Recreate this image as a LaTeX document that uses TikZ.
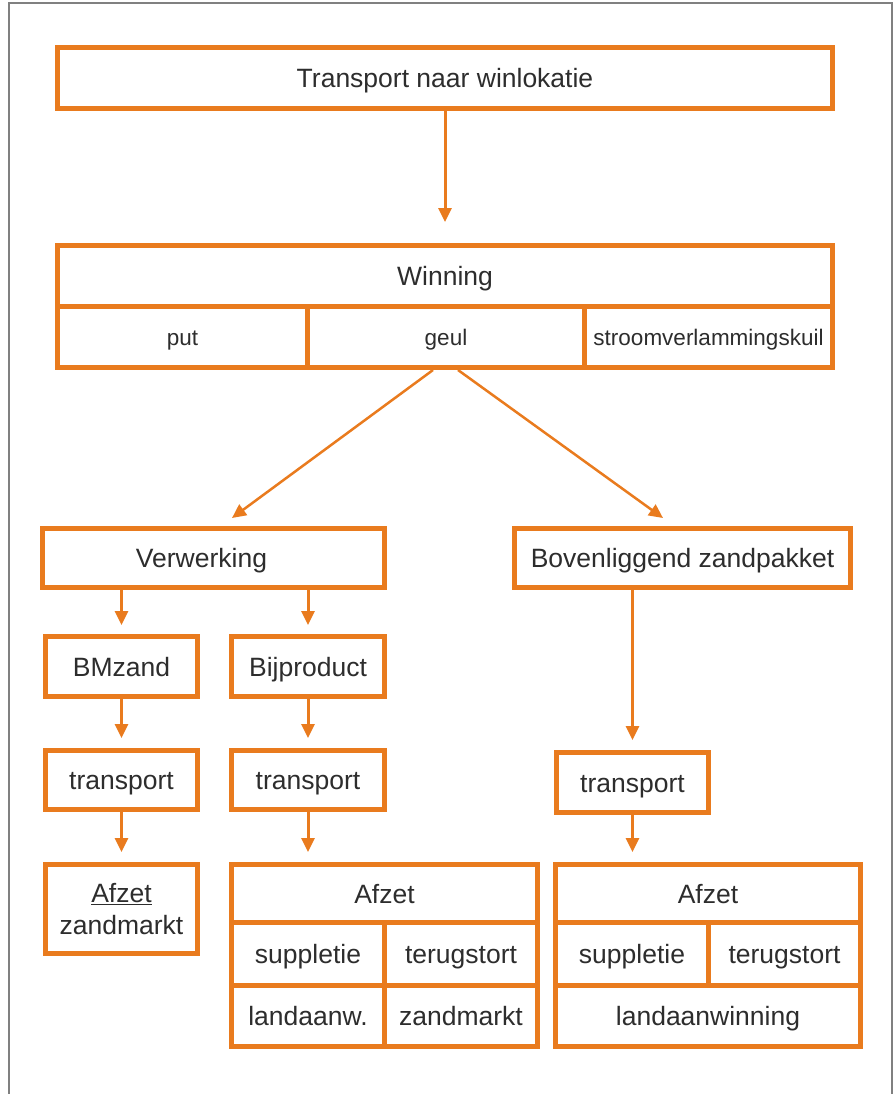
\documentclass[tikz,border=0pt]{standalone}
\usepackage{fontspec}
\setmainfont{Liberation Sans}
\usetikzlibrary{arrows.meta}
\definecolor{flow}{RGB}{233,123,30}
\definecolor{ink}{RGB}{45,45,45}
\definecolor{framegray}{RGB}{128,128,128}

\begin{document}
\begin{tikzpicture}[x=1pt,y=-1pt,
  % box given by its outer edges: left, top, right, bottom
  span/.style n args={4}{at={({(#1+#3)/2},{(#2+#4)/2})},
    minimum width={#3-#1-5}, minimum height={#4-#2-5}},
  box/.style={draw=flow, line width=5pt, fill=white, text=ink, inner sep=0pt,
    align=center, font=\fontsize{26.5}{32}\selectfont,
    text height=19pt, text depth=0pt},
  cell/.style={box, font=\fontsize{22.5}{27}\selectfont,
    text height=16pt, text depth=0pt},
  arr/.style={draw=flow, line width=3pt, -{Triangle[width=13pt,length=14pt]},
    shorten >=10pt},
]
\useasboundingbox (0,0) rectangle (893,1094);

% outer frame
\draw[framegray, line width=1.5pt] (9,1094) -- (9,3) -- (892,3) -- (892,1094);

% top
\node[box, span={55}{45}{835}{111}] (top) {Transport naar winlokatie};

% winning
\node[box, span={55}{243}{835}{309}] (win) {Winning};
\node[cell, span={55}{304}{310}{370}] (put) {put};
\node[cell, span={305}{304}{587}{370}] (geul) {geul};
\node[cell, span={582}{304}{835}{370}] (stroom) {stroomverlammingskuil};

% second level
\node[box, span={40}{526}{387}{590}] (verw) {Verwerking\hspace*{24pt}};
\node[box, span={512}{526}{853}{590}] (bov) {Bovenliggend zandpakket};

% left branches
\node[box, span={43}{634}{200}{699}] (bm) {BMzand};
\node[box, span={229}{634}{387}{699}] (bij) {Bijproduct};
\node[box, span={43}{748}{200}{812}] (trL) {transport};
\node[box, span={229}{748}{387}{812}] (trM) {transport};
\node[box, span={554}{750}{711}{815}] (trR) {transport};

% two-line box: height runs from the first cap line to the last baseline
\node[box, span={43}{862}{200}{956}, text height=51pt] (azL) {\underline{Afzet}\\zandmarkt};

% middle table
\node[box, span={229}{862}{540}{925}] (azM) {Afzet};
\node[box, span={229}{920}{387}{988}] (supM) {suppletie};
\node[box, span={382}{920}{540}{988}] (terM) {terugstort};
\node[box, span={229}{983}{387}{1049}] (lanM) {landaanw.};
\node[box, span={382}{983}{540}{1049}] (zanM) {zandmarkt};

% right table
\node[box, span={553}{862}{863}{925}] (azR) {Afzet};
\node[box, span={553}{920}{711}{988}] (supR) {suppletie};
\node[box, span={706}{920}{863}{988}] (terR) {terugstort};
\node[box, span={553}{983}{863}{1049}] (lanR) {landaanwinning};

% connectors
\draw[arr, shorten >=21pt] (top.south) -- (win.north);
\draw[arr, line width=2.5pt, shorten >=0pt] ([xshift=-13pt]geul.south) -- ([xshift=18.5pt,yshift=8pt]verw.north);
\draw[arr, line width=2.5pt, shorten >=0pt] ([xshift=12pt]geul.south) -- ([xshift=-19.5pt,yshift=8pt]bov.north);
\draw[arr, shorten >=9pt] (verw.south -| bm.north) -- (bm.north);
\draw[arr, shorten >=9pt] (verw.south -| bij.north) -- (bij.north);
\draw[arr] (bm.south) -- (trL.north);
\draw[arr] (bij.south) -- (trM.north);
\draw[arr] (trL.south) -- (azL.north);
\draw[arr] (trM.south) -- (trM.south |- azM.north);
\draw[arr] (bov.south -| trR.north) -- (trR.north);
\draw[arr] (trR.south) -- (trR.south |- azR.north);
\end{tikzpicture}
\end{document}
